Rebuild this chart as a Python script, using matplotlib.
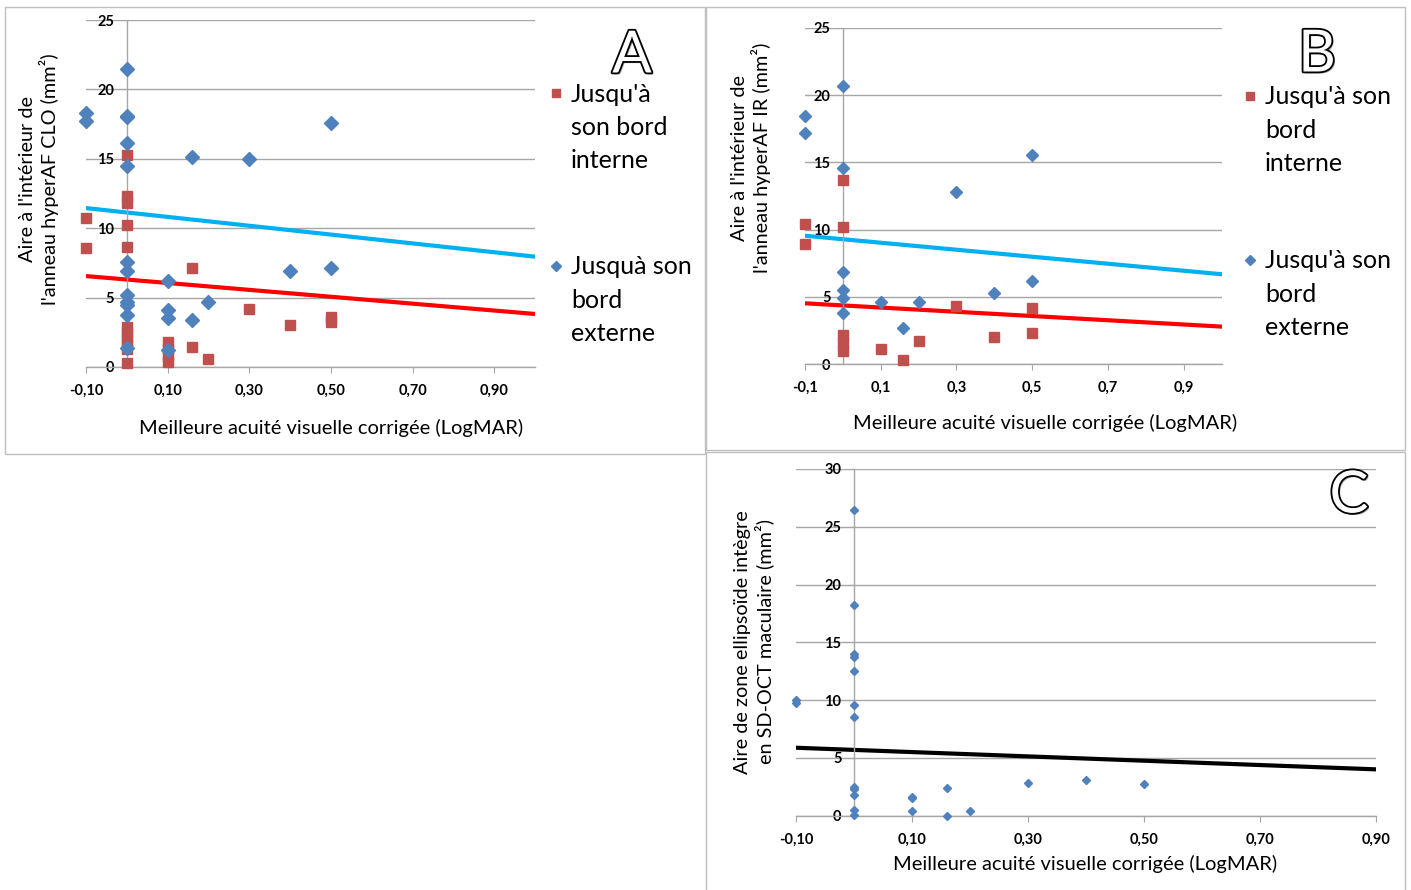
import matplotlib
matplotlib.use("Agg")
import matplotlib.pyplot as plt
from matplotlib.lines import Line2D
from matplotlib.patches import Rectangle
import matplotlib.patheffects as pe

plt.rcParams['font.family'] = ['Lato', 'DejaVu Sans']

# ---------------- data ----------------
# Panel A (CLO)
A_ext_x = [-0.1, -0.1, 0, 0, 0, 0, 0, 0, 0, 0, 0, 0, 0, 0,
           0.1, 0.1, 0.1, 0.1, 0.16, 0.16, 0.2, 0.3, 0.4, 0.5, 0.5]
A_ext_y = [18.3, 17.75, 21.45, 18.1, 18.0, 16.15, 14.5, 7.6, 6.9, 5.2, 4.7, 4.45, 3.75, 1.4,
           6.2, 4.1, 3.55, 1.25, 15.15, 3.4, 4.7, 15.0, 6.9, 17.55, 7.1]
A_int_x = [-0.1, -0.1, 0, 0, 0, 0, 0, 0, 0, 0, 0, 0, 0,
           0.1, 0.1, 0.1, 0.1, 0.16, 0.16, 0.2, 0.3, 0.4, 0.5, 0.5]
A_int_y = [10.7, 8.55, 15.25, 12.3, 11.85, 10.2, 8.65, 2.9, 2.5, 2.1, 1.7, 1.3, 0.3,
           1.8, 1.3, 0.8, 0.35, 7.15, 1.45, 0.55, 4.2, 3.05, 3.6, 3.25]
A_trend_x = [-0.1, 1.0]
A_trend_ext = [11.45, 7.95]
A_trend_int = [6.55, 3.82]

# Panel B (IR)
B_ext_x = [-0.1, -0.1, 0, 0, 0, 0, 0, 0, 0.1, 0.16, 0.2, 0.3, 0.4, 0.5, 0.5]
B_ext_y = [18.45, 17.2, 20.65, 14.55, 6.85, 5.5, 4.9, 3.8, 4.6, 2.7, 4.6, 12.8, 5.3, 15.55, 6.15]
B_int_x = [-0.1, -0.1, 0, 0, 0, 0, 0, 0.1, 0.16, 0.2, 0.3, 0.4, 0.5, 0.5]
B_int_y = [10.4, 8.95, 13.7, 10.2, 2.2, 1.6, 1.0, 1.15, 0.3, 1.75, 4.3, 2.0, 4.15, 2.3]
B_trend_x = [-0.1, 1.0]
B_trend_ext = [9.55, 6.69]
B_trend_int = [4.53, 2.8]

# Panel C (SD-OCT)
C_x = [-0.1, -0.1, 0, 0, 0, 0, 0, 0, 0, 0, 0, 0, 0, 0,
       0.1, 0.1, 0.1, 0.16, 0.16, 0.2, 0.3, 0.4, 0.5]
C_y = [10.0, 9.75, 26.45, 18.2, 13.95, 13.75, 12.5, 9.6, 8.5, 2.5, 2.35, 1.8, 0.5, 0.05,
       1.65, 1.5, 0.4, 2.4, 0.0, 0.4, 2.8, 3.05, 2.75]
C_trend_x = [-0.1, 0.9]
C_trend = [5.88, 4.01]

xticks = [-0.1, 0.1, 0.3, 0.5, 0.7, 0.9]
xlabels_2dec = ['-0,10', '0,10', '0,30', '0,50', '0,70', '0,90']
xlabels_1dec = ['-0,1', '0,1', '0,3', '0,5', '0,7', '0,9']
yticks_25 = [0, 5, 10, 15, 20, 25]
yticks_30 = [0, 5, 10, 15, 20, 25, 30]

xtitle = "Meilleure acuité visuelle corrigée (LogMAR)"

BLUE = '#4F81BD'
RED = '#C0504D'
TBLUE = '#00B0F0'
TRED = '#FF0000'
GRID = '#A6A6A6'

W, H = 1411, 890
fig = plt.figure(figsize=(W / 100, H / 100), dpi=100)


def fx(px):
    return px / W


def fy(py):
    return (H - py) / H


def make_axes(x0, x1, ytop, ybot):
    return fig.add_axes([fx(x0), fy(ybot), fx(x1) - fx(x0), fy(ytop) - fy(ybot)])


def style(ax, xmax, ymax, yticks, xlabels):
    ax.set_xlim(-0.1, xmax)
    ax.set_ylim(0, ymax)
    for s in ['top', 'right']:
        ax.spines[s].set_visible(False)
    ax.spines['left'].set_position(('data', 0))
    ax.spines['left'].set_color(GRID)
    ax.spines['bottom'].set_color(GRID)
    ax.spines['left'].set_linewidth(1.0)
    ax.spines['bottom'].set_linewidth(1.0)
    ax.set_xticks(xticks)
    ax.set_xticklabels(xlabels, fontweight='bold', fontsize=10.5)
    ax.set_yticks(yticks)
    ax.set_yticklabels([str(v) for v in yticks], fontweight='bold', fontsize=10.5)
    ax.tick_params(axis='x', direction='out', length=4, color=GRID, pad=8)
    ax.tick_params(axis='y', direction='out', length=4, color=GRID, pad=5)
    ax.yaxis.grid(True, color=GRID, lw=1.0)
    ax.set_axisbelow(True)
    ax.patch.set_alpha(0)


# panel borders
for (x0, y0, x1, y1) in [(5, 7, 705, 454), (706, 7, 1405, 450), (706, 452, 1405, 892)]:
    fig.add_artist(Rectangle((fx(x0), fy(y1)), fx(x1) - fx(x0), fy(y0) - fy(y1),
                             transform=fig.transFigure, fill=False, ec='#BFBFBF', lw=1.0))

# ---------- Panel A ----------
axA = make_axes(86, 535, 20, 367)
style(axA, 1.0, 25, yticks_25, xlabels_2dec)
axA.plot(A_trend_x, A_trend_ext, color=TBLUE, lw=3, zorder=2)
axA.plot(A_trend_x, A_trend_int, color=TRED, lw=3, zorder=2)
axA.plot(A_int_x, A_int_y, ls='none', marker='s', ms=7.2, color=RED, mec=RED, zorder=3, clip_on=False)
axA.plot(A_ext_x, A_ext_y, ls='none', marker='D', ms=7.5, color=BLUE, mec=BLUE, zorder=4, clip_on=False)

# ---------- Panel B ----------
axB = make_axes(805, 1221.5, 27.7, 364.3)
style(axB, 1.0, 25, yticks_25, xlabels_1dec)
axB.plot(B_trend_x, B_trend_ext, color=TBLUE, lw=3, zorder=2)
axB.plot(B_trend_x, B_trend_int, color=TRED, lw=3, zorder=2)
axB.plot(B_int_x, B_int_y, ls='none', marker='s', ms=7.2, color=RED, mec=RED, zorder=3, clip_on=False)
axB.plot(B_ext_x, B_ext_y, ls='none', marker='D', ms=6.5, color=BLUE, mec=BLUE, zorder=4, clip_on=False)

# ---------- Panel C ----------
axC = make_axes(796, 1376, 469, 815.7)
style(axC, 0.9, 30, yticks_30, xlabels_2dec)
axC.plot(C_trend_x, C_trend, color='black', lw=3, zorder=2)
axC.plot(C_x, C_y, ls='none', marker='D', ms=4.2, color=BLUE, mec=BLUE, zorder=4, clip_on=False)

# ---------- axis titles ----------
fig.text(fx(331), fy(428), xtitle, ha='center', va='center', fontsize=14.5)
fig.text(fx(1045), fy(423), xtitle, ha='center', va='center', fontsize=14.5)
fig.text(fx(1085), fy(864), xtitle, ha='center', va='center', fontsize=14.5)

fig.text(fx(39), fy(179), "Aire à l'intérieur de\nl'anneau hyperAF CLO (mm²)",
         rotation=90, ha='center', va='center', multialignment='center', fontsize=14.3,
         linespacing=1.2)
fig.text(fx(751), fy(158), "Aire à l'intérieur de\nl'anneau hyperAF IR (mm²)",
         rotation=90, ha='center', va='center', multialignment='center', fontsize=14.3,
         linespacing=1.2)
fig.text(fx(754), fy(642), "Aire de zone ellipsoïde intègre\nen SD-OCT maculaire (mm²)",
         rotation=90, ha='center', va='center', multialignment='center', fontsize=14.3,
         linespacing=1.2)

# ---------- legends ----------
def legend_entry(xm, ym, xt, text, marker, color, ms):
    fig.add_artist(Line2D([fx(xm)], [fy(ym)], transform=fig.transFigure, marker=marker,
                          ms=ms, color=color, mec=color, ls='none'))
    fig.text(fx(xt), fy(ym - 10.5), text, ha='left', va='top', fontsize=18, linespacing=1.55,
             transform=fig.transFigure)

legend_entry(556, 93, 571, "Jusqu'à\nson bord\ninterne", 's', RED, 6)
legend_entry(556, 266, 571, "Jusquà son\nbord\nexterne", 'D', BLUE, 5.5)
legend_entry(1250, 96, 1265, "Jusqu'à son\nbord\ninterne", 's', RED, 6)
legend_entry(1250, 260, 1265, "Jusqu'à son\nbord\nexterne", 'D', BLUE, 5.5)

# ---------- panel letters ----------
for (px_, py_, letter) in [(632, 56, 'A'), (1317, 55, 'B'), (1349, 496, 'C')]:
    fig.text(fx(px_), fy(py_), letter, ha='center', va='center', fontsize=42,
             color='white',
             path_effects=[pe.SimplePatchShadow(offset=(1.5, -1.5), shadow_rgbFace='#888888', alpha=0.6),
                           pe.Stroke(linewidth=2.6, foreground='black'), pe.Normal()])

fig.savefig('out.png', dpi=100)
